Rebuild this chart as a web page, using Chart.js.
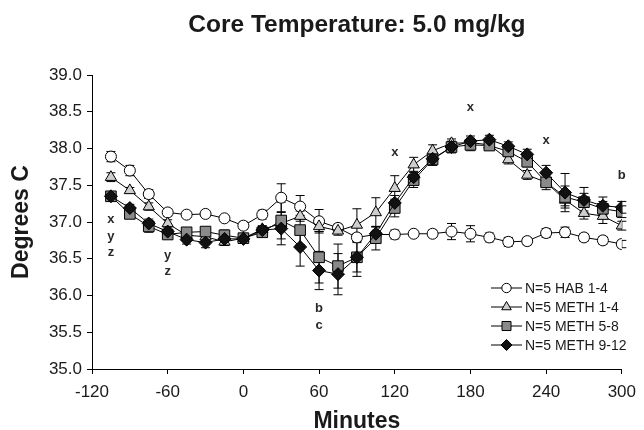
<!DOCTYPE html>
<html>
<head>
<meta charset="utf-8">
<script src="https://cdn.jsdelivr.net/npm/chart.js@4.4.0/dist/chart.umd.min.js"></script>
<style>
  html, body { margin: 0; padding: 0; background: #fff; }
</style>
</head>
<body>
<canvas id="chart" width="644" height="430"></canvas>
<script>
// Time points (minutes)
const minutes = [-105, -90, -75, -60, -45, -30, -15, 0, 15, 30, 45, 60, 75, 90,
                 105, 120, 135, 150, 165, 180, 195, 210, 225, 240, 255, 270, 285, 300];

// Mean core temperature per group
const hab14 = [37.89, 37.70, 37.38, 37.13, 37.10, 37.11, 37.05, 36.95, 37.10, 37.33, 37.21, 37.01, 36.92, 36.79,
               36.83, 36.83, 36.84, 36.84, 36.87, 36.84, 36.79, 36.73, 36.74, 36.85, 36.86, 36.79, 36.75, 36.70];
const meth14 = [37.61, 37.43, 37.21, 36.98, 36.82, 36.80, 36.73, 36.78, 36.90, 36.98, 37.08, 36.94, 36.88, 36.96,
                37.13, 37.46, 37.78, 37.97, 38.07, 38.08, 38.05, 37.85, 37.64, 37.54, 37.30, 37.12, 37.08, 36.95];
const meth58 = [37.35, 37.11, 36.94, 36.83, 36.86, 36.87, 36.82, 36.78, 36.86, 37.02, 36.89, 36.52, 36.40, 36.52,
                36.78, 37.19, 37.57, 37.85, 38.02, 38.05, 38.04, 37.96, 37.82, 37.54, 37.34, 37.27, 37.18, 37.14];
const meth912 = [37.35, 37.19, 36.98, 36.87, 36.76, 36.72, 36.77, 36.77, 36.89, 36.91, 36.66, 36.34, 36.29, 36.52,
                 36.84, 37.26, 37.61, 37.86, 38.02, 38.10, 38.12, 38.03, 37.92, 37.67, 37.40, 37.30, 37.22, 37.20];

// SEM per group
const hab14Err = [0.07, 0.07, 0.06, 0.05, 0.04, 0.04, 0.04, 0.05, 0.06, 0.19, 0.15, 0.16, 0.05, 0.05,
                  0.04, 0.06, 0.04, 0.05, 0.11, 0.11, 0.06, 0.06, 0.05, 0.06, 0.07, 0.05, 0.05, 0.05];
const meth14Err = [0.06, 0.04, 0.05, 0.05, 0.05, 0.05, 0.05, 0.05, 0.05, 0.06, 0.07, 0.07, 0.06, 0.22,
                   0.20, 0.17, 0.10, 0.08, 0.06, 0.06, 0.05, 0.06, 0.06, 0.06, 0.08, 0.08, 0.10, 0.06];
const meth58Err = [0.05, 0.05, 0.08, 0.06, 0.05, 0.05, 0.07, 0.05, 0.05, 0.25, 0.20, 0.35, 0.30, 0.26,
                   0.16, 0.12, 0.10, 0.08, 0.08, 0.08, 0.06, 0.06, 0.07, 0.10, 0.15, 0.12, 0.10, 0.08];
const meth912Err = [0.05, 0.05, 0.06, 0.07, 0.06, 0.07, 0.06, 0.05, 0.05, 0.22, 0.26, 0.26, 0.28, 0.20,
                    0.10, 0.10, 0.08, 0.08, 0.06, 0.07, 0.06, 0.06, 0.07, 0.10, 0.26, 0.17, 0.12, 0.08];

const seriesLabels = ['N=5 HAB 1-4', 'N=5 METH 1-4', 'N=5 METH 5-8', 'N=5 METH 9-12'];

// Significance letters
const noteX = [-105, -105, -105, -60, -60, 60, 60, 120, 180, 240, 300];
const noteY = [37.04, 36.80, 36.58, 36.55, 36.33, 35.83, 35.59, 37.94, 38.56, 38.11, 37.64];
const noteText = ['x', 'y', 'z', 'y', 'z', 'b', 'c', 'x', 'x', 'x', 'b'];

const FONT = '"Liberation Sans", Arial, Helvetica, sans-serif';
Chart.defaults.font.family = FONT;
Chart.defaults.color = '#1a1a1a';

function pts(values) {
    return minutes.map((m, i) => ({ x: m, y: values[i] }));
}

const styles = [
    { shape: 'circle', radius: 5.5, fill: '#ffffff' },
    { shape: 'triangle', radius: 6.5, fill: '#cdcdcd' },
    { shape: 'rect', radius: 7.5, fill: '#8a8a8a' },
    { shape: 'rectRot', radius: 6.5, fill: '#111111' }
];
const values = [hab14, meth14, meth58, meth912];
const errors = [hab14Err, meth14Err, meth58Err, meth912Err];

const datasets = values.map((v, i) => ({
    label: seriesLabels[i],
    data: pts(v),
    errors: errors[i],
    borderColor: '#000',
    borderWidth: 1,
    pointStyle: styles[i].shape,
    pointRadius: styles[i].radius,
    pointBackgroundColor: styles[i].fill,
    pointBorderColor: '#000',
    pointBorderWidth: 1,
    order: 4 - i,
    showLine: true
}));

// Error bars drawn behind the markers
const errorBars = {
    id: 'errorBars',
    beforeDatasetsDraw(chart) {
        const { ctx, scales: { x, y } } = chart;
        ctx.save();
        ctx.strokeStyle = '#000';
        ctx.lineWidth = 1;
        chart.data.datasets.forEach(ds => {
            ds.data.forEach((p, i) => {
                const e = ds.errors[i];
                const px = x.getPixelForValue(p.x);
                const top = y.getPixelForValue(p.y + e);
                const bot = y.getPixelForValue(p.y - e);
                ctx.beginPath();
                ctx.moveTo(px, top); ctx.lineTo(px, bot);
                ctx.moveTo(px - 4.5, top); ctx.lineTo(px + 4.5, top);
                ctx.moveTo(px - 4.5, bot); ctx.lineTo(px + 4.5, bot);
                ctx.stroke();
            });
        });
        ctx.restore();
    }
};

function drawMarker(ctx, st, cx, cy) {
    const r = st.radius;
    ctx.beginPath();
    if (st.shape === 'circle') {
        ctx.arc(cx, cy, r, 0, Math.PI * 2);
    } else if (st.shape === 'triangle') {
        ctx.moveTo(cx, cy - r);
        ctx.lineTo(cx + r * 0.866, cy + r * 0.5);
        ctx.lineTo(cx - r * 0.866, cy + r * 0.5);
        ctx.closePath();
    } else if (st.shape === 'rect') {
        const h = r * Math.SQRT1_2;
        ctx.rect(cx - h, cy - h, 2 * h, 2 * h);
    } else {
        ctx.moveTo(cx, cy - r); ctx.lineTo(cx + r, cy);
        ctx.lineTo(cx, cy + r); ctx.lineTo(cx - r, cy);
        ctx.closePath();
    }
    ctx.fillStyle = st.fill;
    ctx.fill();
    ctx.stroke();
}

// Title, x-axis title, letters and legend
const notesAndLegend = {
    id: 'notesAndLegend',
    afterDraw(chart) {
        const { ctx, chartArea, scales: { x, y } } = chart;
        const midX = (chartArea.left + chartArea.right) / 2;
        ctx.save();
        ctx.fillStyle = '#1a1a1a';
        ctx.textAlign = 'center';
        ctx.textBaseline = 'alphabetic';
        ctx.font = 'bold 24.5px ' + FONT;
        ctx.fillText('Core Temperature: 5.0 mg/kg', midX, 32);
        ctx.font = 'bold 23px ' + FONT;
        ctx.fillText('Minutes', midX, 428);

        // letters
        ctx.font = 'bold 13px ' + FONT;
        ctx.fillStyle = '#2a2a2a';
        ctx.textBaseline = 'middle';
        noteText.forEach((t, i) => {
            ctx.fillText(t, x.getPixelForValue(noteX[i]), y.getPixelForValue(noteY[i]));
        });
        // legend
        ctx.strokeStyle = '#000';
        ctx.lineWidth = 1;
        ctx.font = '14px ' + FONT;
        ctx.textAlign = 'left';
        seriesLabels.forEach((lab, i) => {
            const ly = 288 + i * 19;
            ctx.beginPath();
            ctx.moveTo(491, ly); ctx.lineTo(522, ly);
            ctx.stroke();
            const st = Object.assign({}, styles[i], { radius: styles[i].radius * 0.85 });
            drawMarker(ctx, st, 506.5, ly);
            ctx.fillStyle = '#1a1a1a';
            ctx.fillText(lab, 525, ly + 1);
        });
        ctx.restore();
    }
};

new Chart(document.getElementById('chart'), {
    type: 'scatter',
    data: { datasets: datasets },
    plugins: [errorBars, notesAndLegend],
    options: {
        responsive: false,
        animation: false,
        layout: { padding: { left: 0, right: 15, top: 75, bottom: 0 } },
        plugins: {
            legend: { display: false },
            tooltip: { enabled: false },
            title: { display: false }
        },
        scales: {
            x: {
                type: 'linear',
                min: -120,
                max: 300,
                afterFit: s => { s.height = 61; },
                ticks: { stepSize: 60, font: { size: 17 }, padding: 8, maxRotation: 0 },
                grid: { drawOnChartArea: false, tickLength: 5, color: '#000' },
                border: { color: '#000', width: 1 }
            },
            y: {
                min: 35,
                max: 39,
                afterFit: s => { s.width = 92; },
                ticks: { stepSize: 0.5, font: { size: 17 }, padding: 5, callback: v => v.toFixed(1) },
                grid: { drawOnChartArea: false, tickLength: 5, color: '#000' },
                border: { color: '#000', width: 1 },
                title: { display: true, text: 'Degrees C', font: { size: 23, weight: 'bold' }, padding: { top: 8, bottom: 0 } }
            }
        }
    }
});
</script>
</body>
</html>
